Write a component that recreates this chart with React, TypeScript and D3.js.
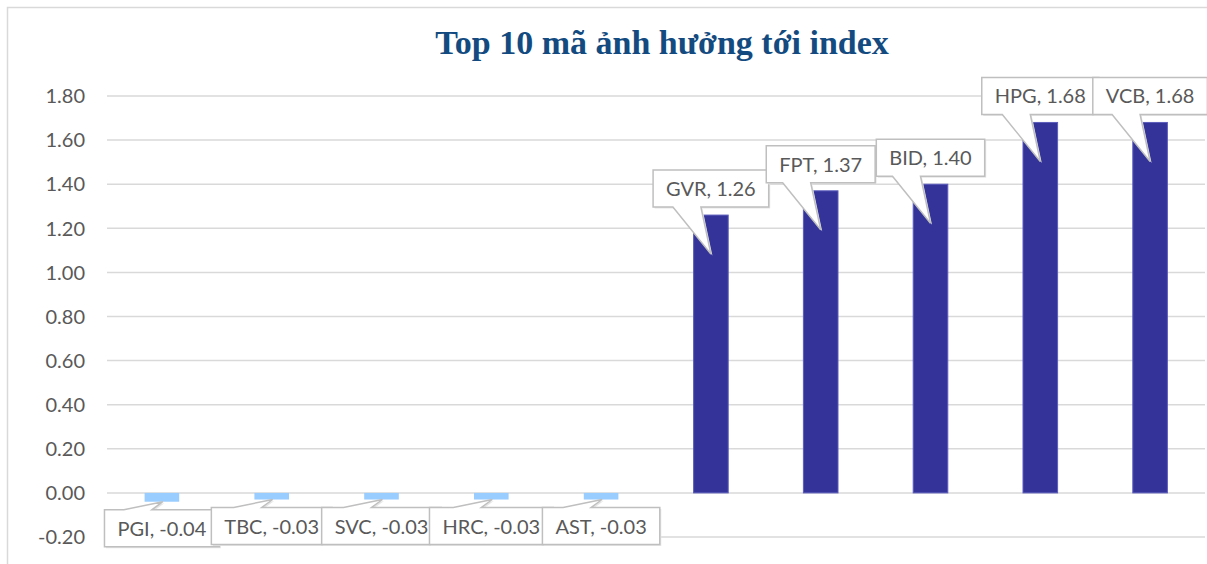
import * as d3 from "d3";
import { useEffect, useRef } from "react";

const categories = ["PGI", "TBC", "SVC", "HRC", "AST", "GVR", "FPT", "BID", "HPG", "VCB"];
const values = [-0.04, -0.03, -0.03, -0.03, -0.03, 1.26, 1.37, 1.4, 1.68, 1.68];
const yTicks = [-0.2, 0, 0.2, 0.4, 0.6, 0.8, 1.0, 1.2, 1.4, 1.6, 1.8];
const title = "Top 10 mã ảnh hưởng tới index";

const W = 1207;
const H = 564;
const FONT = "Lato, 'Open Sans', sans-serif";

const App = () => {
    const ref = useRef<SVGSVGElement>(null);

    useEffect(() => {
        const svg = d3.select(ref.current);
        svg.selectAll("*").remove();

        const plot = { left: 107, right: 1205, top: 96, bottom: 537 };

        const x = d3.scaleBand<string>()
            .domain(categories)
            .range([plot.left, plot.right])
            .paddingInner(0.685)
            .paddingOuter(0.3425);
        const y = d3.scaleLinear().domain([-0.2, 1.8]).range([plot.bottom, plot.top]);

        // khung ngoài
        svg.append("rect")
            .attr("x", 7.5).attr("y", 7.5)
            .attr("width", W + 60).attr("height", H + 60)
            .attr("fill", "white")
            .attr("stroke", "#d9d9d9")
            .attr("stroke-width", 1.5);

        // tiêu đề
        svg.append("text")
            .attr("x", 662).attr("y", 54)
            .attr("text-anchor", "middle")
            .attr("font-family", "'Liberation Serif', serif")
            .attr("font-weight", "bold")
            .attr("font-size", 34)
            .attr("fill", "#134b80")
            .text(title);

        // lưới + nhãn trục Y
        const grid = svg.append("g");
        yTicks.forEach(t => {
            grid.append("line")
                .attr("x1", plot.left).attr("x2", plot.right)
                .attr("y1", y(t)).attr("y2", y(t))
                .attr("stroke", "#d9d9d9")
                .attr("stroke-width", 1.5);
            grid.append("text")
                .attr("x", 85).attr("y", y(t))
                .attr("dy", "0.36em")
                .attr("text-anchor", "end")
                .attr("font-family", FONT)
                .attr("font-size", 20)
                .attr("fill", "#595959")
                .text(t.toFixed(2));
        });

        // cột
        const bw = x.bandwidth();
        svg.append("g")
            .selectAll("rect")
            .data(categories)
            .enter()
            .append("rect")
            .attr("x", d => x(d)!)
            .attr("width", bw)
            .attr("y", (d, i) => y(Math.max(0, values[i])))
            .attr("height", (d, i) => Math.abs(y(values[i]) - y(0)))
            .attr("fill", (d, i) => values[i] < 0 ? "#99ccff" : "#333399")
            .attr("stroke", (d, i) => values[i] < 0 ? "none" : "#5c5cbd")
            .attr("stroke-width", 1);

        // nhãn dạng callout
        const labels = svg.append("g");
        categories.forEach((c, i) => {
            const v = values[i];
            const cx = x(c)! + bw / 2;
            const g = labels.append("g");
            const shadow = g.append("path");
            const box = g.append("path");
            const txt = g.append("text")
                .attr("font-family", FONT)
                .attr("font-size", 20)
                .attr("fill", "#595959")
                .attr("text-anchor", "middle")
                .text(`${c}, ${v.toFixed(2)}`);
            const tw = (txt.node() as SVGTextElement).getComputedTextLength();
            const bwBox = tw + 26;
            const bh = 37;
            const left = cx - bwBox / 2;
            const right = cx + bwBox / 2;
            let d: string;
            let top: number;
            if (v >= 0) {
                const barTop = y(v);
                const bottom = barTop - 8;
                top = bottom - bh;
                const tipY = barTop + 39;
                d = `M${left},${top}H${right}V${bottom}H${cx - 10}L${cx},${tipY}L${cx - 38},${bottom}H${left}Z`;
            } else {
                const barBot = y(v);
                top = barBot + 8;
                const bottom = top + bh;
                d = `M${left},${top}H${cx - 38}L${cx + 1},${barBot}L${cx - 10},${top}H${right}V${bottom}H${left}Z`;
            }
            shadow.attr("d", d)
                .attr("transform", "translate(1.5,1.5)")
                .attr("fill", "#e6e6e6");
            box.attr("d", d)
                .attr("fill", "white")
                .attr("stroke", "#bfbfbf")
                .attr("stroke-width", 1.5)
                .attr("stroke-linejoin", "miter");
            txt.attr("x", cx).attr("y", top + 26);
            txt.raise();
        });
    }, []);

    return (
        <svg
            ref={ref}
            width={W}
            height={H}
            style={{ position: "absolute", left: 0, top: 0, background: "white" }}
        />
    );
};

export default App;
